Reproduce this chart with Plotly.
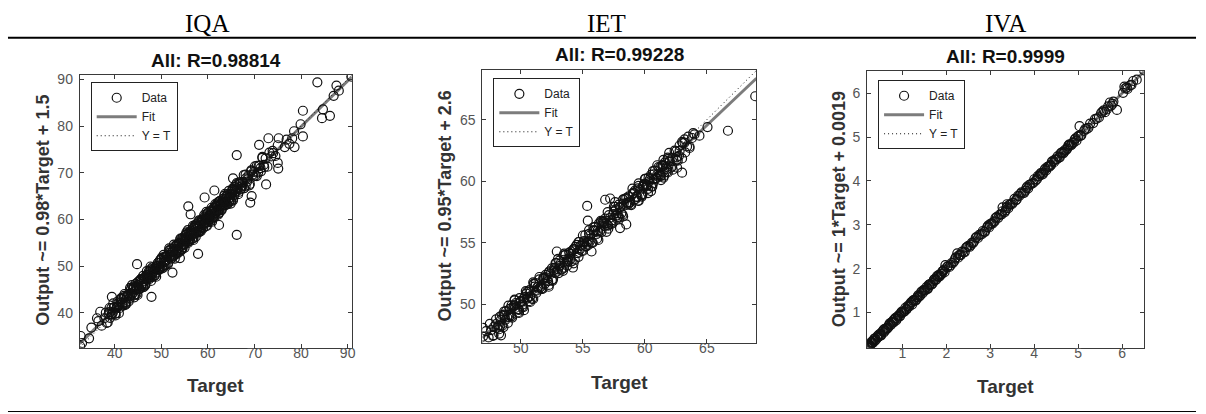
import plotly.graph_objects as go

# ---------------- data ----------------
PANEL_NAMES = ["IQA", "IET", "IVA"]
PANEL_TITLES = ["All: R=0.98814", "All: R=0.99228", "All: R=0.9999"]
Y_LABELS = ["Output ~= 0.98*Target + 1.5", "Output ~= 0.95*Target + 2.6", "Output ~= 1*Target + 0.0019"]
X_LABEL = "Target"

IQA_TICKS = [40, 50, 60, 70, 80, 90]
IET_TICKS = [50, 55, 60, 65]
IVA_TICKS = [1, 2, 3, 4, 5, 6]

IQA_LIMITS = [32.5, 90.9]
IET_LIMITS = [46.9, 69.0]
IVA_LIMITS = [0.2, 6.5]

IQA_FIT = [0.98, 1.5]
IET_FIT = [0.953, 2.6]
IVA_FIT = [1.0, 0.0019]

IQA_TARGET = [36.5, 37.2, 37.8, 38.3, 38.9, 39.4, 39.8, 40.2, 40.6, 41.0, 41.3, 41.7, 42.0, 42.3, 42.7, 43.0, 43.3, 43.6, 43.9, 44.2,
              44.5, 44.8, 45.1, 45.4, 45.7, 46.0, 46.3, 46.6, 46.9, 47.2, 47.5, 47.8, 48.1, 48.4, 48.7, 49.0, 49.3, 49.6, 49.9, 50.2,
              50.5, 50.8, 51.1, 51.4, 51.7, 52.0, 52.3, 52.6, 52.9, 53.2, 53.5, 53.8, 54.1, 54.4, 54.7, 55.0, 55.2, 55.4, 55.6, 55.8,
              56.0, 56.2, 56.4, 56.6, 56.8, 57.0, 57.2, 57.4, 57.6, 57.8, 58.0, 58.2, 58.4, 58.6, 58.8, 59.0, 59.2, 59.4, 59.6, 59.8,
              60.0, 60.2, 60.4, 60.6, 60.8, 61.0, 61.2, 61.4, 61.6, 61.8, 62.0, 62.2, 62.4, 62.6, 62.8, 63.0, 63.3, 63.6, 63.9, 64.2,
              64.5, 64.8, 65.1, 65.4, 65.7, 66.0, 66.3, 66.6, 66.9, 67.2, 67.5, 67.8, 68.1, 68.4, 68.7, 69.0, 69.3, 69.6, 69.9, 70.2,
              70.5, 70.8, 71.1, 71.4, 71.7, 72.0, 72.4, 72.8, 73.2, 73.6, 74.0, 74.5, 75.0,
              53.3, 53.9, 54.6, 55.1, 55.5, 55.9, 56.3, 56.7, 57.1, 57.5, 57.9, 58.3, 58.7, 59.1, 59.5, 59.9, 60.3, 60.7, 61.1, 61.5,
              61.9, 62.3, 62.7, 63.1, 63.5, 64.0, 64.6, 65.2,
              40.4, 41.5, 42.2, 43.4, 44.0, 44.7, 45.5, 46.2, 47.0, 47.7, 48.9, 50.0, 50.7, 51.8, 52.4, 53.7, 54.3,
              83.5, 90.8, 87.6, 88.1, 87.0, 80.4, 79.9, 80.4, 78.6, 84.5, 86.2, 84.7, 71.0, 73.0, 75.2, 76.9, 78.1, 66.2, 75.0, 75.1,
              72.5, 69.4, 69.1, 65.4, 61.4, 59.3, 55.8, 56.3, 66.2, 62.4, 57.9, 44.8, 52.4, 54.0, 47.9, 39.4, 36.9, 36.2, 35.0, 32.7,
              34.5, 33.0, 32.6, 78.5, 73.9, 76.5, 77.5,
              38.1, 38.5, 38.9, 39.3, 39.7, 40.1, 40.5, 40.9, 41.3, 41.7, 42.1, 42.5, 42.9, 43.3, 43.7, 44.1, 44.5, 44.9, 45.3, 45.7,
              46.1, 46.5, 46.9, 47.3, 47.7, 48.1, 48.5, 48.9, 49.3, 49.7, 50.1, 50.5, 50.9, 51.3, 51.7, 52.1, 52.5, 52.9, 53.3, 53.7,
              54.1, 54.5, 54.9, 55.3, 55.7, 56.1, 56.5, 56.9, 57.3, 57.7, 58.1, 58.5, 58.9, 59.3, 59.7, 60.1, 60.5, 60.9, 61.3, 61.7,
              62.1, 62.5, 62.9, 63.3, 63.7, 64.1, 64.5, 64.9, 65.3, 65.7, 66.1, 66.5, 66.9, 67.3, 67.7, 68.1, 68.5, 68.9, 69.3, 69.7,
              70.1, 70.5, 70.9, 71.3, 71.7, 72.1,
              50.3, 50.6, 50.9, 51.2, 51.5, 51.8, 52.1, 52.4, 52.7, 53.0, 53.3, 53.6, 53.9, 54.2, 54.5, 54.8, 55.1, 55.4,
              55.7, 56.0, 56.3, 56.6, 56.9, 57.2, 57.5, 57.8, 58.1, 58.4, 58.7, 59.0, 59.3, 59.6, 59.9, 60.2, 60.5, 60.8,
              61.1, 61.4, 61.7, 62.0, 62.3, 62.6, 62.9, 63.2, 63.5, 63.8, 64.1, 64.4, 64.7, 65.0, 65.3, 65.6, 65.9, 66.2,
              38.7, 39.0, 39.3, 39.6, 39.9, 40.2, 40.5, 40.8, 41.1, 41.4, 41.7, 42.0, 42.3, 42.6, 42.9, 43.2, 43.5, 43.8, 44.1,
              44.4, 44.7, 45.0, 45.3, 45.6, 45.9, 46.2, 46.5, 46.8, 47.1, 47.4, 47.7, 48.0, 48.3, 48.6, 48.9, 49.2, 49.5, 49.8,
              44.15, 44.55, 44.95, 45.35, 45.75, 46.15, 46.55, 46.95, 47.35, 47.75, 48.15, 48.55, 48.95, 49.35, 49.75, 50.15,
              50.55, 50.95, 51.35, 51.75, 52.15, 52.55, 52.95, 53.35, 53.75, 54.15, 54.55, 54.95, 55.35, 55.75, 56.15, 56.55,
              56.95, 57.35, 57.75, 58.15, 58.55, 58.95, 59.35, 59.75, 60.15, 60.55, 60.95, 61.35, 61.75, 62.15, 62.55, 62.95,
              63.35, 63.75, 64.15, 64.55, 64.95, 65.35, 65.75, 66.15, 66.55, 66.95, 67.35, 67.75, 68.15]
IQA_OUTPUT = [38.2, 37.2, 38.8, 37.8, 41.0, 39.7, 41.1, 39.4, 42.4, 41.6, 42.2, 41.5, 43.6, 42.2, 43.6, 42.4, 45.3, 43.8, 45.1, 43.3,
              46.2, 45.3, 45.9, 45.1, 47.2, 45.8, 47.2, 46.0, 48.9, 47.4, 48.7, 46.8, 49.7, 48.8, 49.4, 48.6, 50.7, 49.3, 50.7, 49.5,
              52.4, 50.9, 52.2, 50.4, 53.3, 52.4, 53.0, 52.1, 54.2, 52.8, 54.2, 53.0, 55.9, 54.4, 55.7, 53.9, 56.7, 55.7, 56.2, 55.3,
              57.3, 55.8, 57.1, 55.8, 58.6, 57.0, 58.2, 56.3, 59.1, 58.0, 58.5, 57.6, 59.6, 58.1, 59.4, 58.1, 60.9, 59.3, 60.5, 58.6,
              61.4, 60.4, 60.9, 60.0, 62.0, 60.5, 61.8, 60.5, 63.3, 61.7, 62.9, 61.0, 63.8, 62.8, 63.2, 62.3, 64.4, 63.0, 64.4, 63.2,
              66.1, 64.6, 65.9, 64.1, 67.0, 66.1, 66.7, 65.9, 68.0, 66.6, 68.0, 66.7, 69.6, 68.1, 69.4, 67.6, 70.5, 69.6, 70.2, 69.4,
              71.5, 70.1, 71.5, 70.3, 73.2, 71.7, 73.1, 71.3, 74.3, 73.5, 74.2, 73.6, 75.9,
              53.2, 55.0, 54.0, 55.6, 56.9, 55.7, 57.1, 56.9, 57.0, 58.6, 57.2, 58.7, 60.0, 58.8, 60.2, 60.0, 60.1, 61.7, 60.4, 61.9,
              63.2, 62.0, 63.3, 63.1, 63.2, 64.9, 63.8, 65.5,
              40.9, 42.9, 41.6, 44.2, 45.6, 44.0, 47.0, 45.5, 48.1, 47.9, 49.9, 51.5, 50.1, 52.9, 51.8, 54.8, 53.6,
              89.4, 90.6, 88.7, 87.6, 86.5, 83.3, 80.4, 77.8, 75.5, 81.7, 82.2, 83.6, 76.0, 77.4, 77.4, 77.1, 77.4, 73.8, 72.1, 70.9,
              67.5, 65.0, 63.6, 68.8, 66.2, 64.7, 62.8, 61.1, 56.7, 58.8, 52.6, 50.4, 48.6, 51.7, 43.4, 43.4, 40.2, 38.8, 36.8, 35.0,
              34.5, 33.5, 32.8, 78.9, 74.7, 75.5, 76.2,
              40.0, 37.9, 40.1, 39.6, 42.0, 39.8, 41.2, 39.9, 42.9, 41.8, 44.0, 41.9, 44.0, 43.5, 45.9, 43.7, 45.1, 43.8, 46.8, 45.7,
              47.9, 45.8, 48.0, 47.5, 49.9, 47.6, 49.0, 47.7, 50.7, 49.6, 51.8, 49.7, 51.9, 51.4, 53.8, 51.6, 53.0, 51.6, 54.6, 53.5,
              55.7, 53.6, 55.8, 55.3, 57.7, 55.5, 56.9, 55.6, 58.6, 57.5, 59.6, 57.5, 59.7, 59.2, 61.6, 59.4, 60.8, 59.5, 62.5, 61.4,
              63.6, 61.5, 63.6, 63.1, 65.5, 63.3, 64.7, 63.4, 66.4, 65.3, 67.5, 65.4, 67.6, 67.1, 69.5, 67.2, 68.6, 67.3, 70.3, 69.2,
              71.4, 69.3, 71.5, 71.0, 73.4, 71.2,
              49.9, 51.9, 51.2, 52.2, 50.7, 53.4, 52.0, 53.2, 54.6, 52.5, 54.5, 53.8, 54.8, 53.3, 56.0, 54.6, 55.8, 57.2,
              55.2, 57.2, 56.5, 57.5, 56.0, 58.7, 57.3, 58.4, 59.8, 57.8, 59.8, 59.1, 60.1, 58.6, 61.3, 59.9, 61.1, 62.5,
              60.5, 62.5, 61.8, 62.8, 61.3, 64.0, 62.5, 63.7, 65.1, 63.1, 65.1, 64.4, 65.4, 63.9, 66.6, 65.2, 66.4, 67.8,
              39.7, 38.9, 41.0, 40.0, 41.2, 39.8, 41.3, 41.8, 41.0, 43.1, 42.1, 43.3, 41.9, 43.4, 43.8, 43.0, 45.1, 44.1, 45.3,
              43.9, 45.4, 45.9, 45.1, 47.2, 46.2, 47.4, 46.0, 47.5, 48.0, 47.2, 49.3, 48.2, 49.4, 48.0, 49.5, 50.0, 49.2, 51.3,
              45.27, 44.86, 46.55, 45.24, 46.54, 45.53, 47.62, 47.21, 48.90, 47.60, 48.89, 47.88, 49.97, 49.56, 51.26, 49.95,
              51.24, 50.23, 52.32, 51.92, 53.61, 52.30, 53.59, 52.58, 54.68, 54.27, 55.96, 54.65, 55.94, 54.94, 57.03, 56.62,
              58.31, 57.00, 58.30, 57.29, 59.38, 58.97, 60.66, 59.36, 60.65, 59.64, 61.73, 61.32, 63.02, 61.71, 63.00, 61.99,
              64.08, 63.68, 65.37, 64.06, 65.35, 64.34, 66.44, 66.03, 67.72, 66.41, 67.70, 66.70, 68.79]

IET_TARGET = [47.2, 47.4, 47.6, 47.8, 48.0, 48.2, 48.4, 48.6, 48.8, 49.0, 49.2, 49.4, 49.6, 49.8, 50.0, 50.2, 50.4, 50.6, 50.8, 51.0,
              51.2, 51.4, 51.6, 51.8, 52.0, 52.2, 52.4, 52.6, 52.8, 53.0, 53.2, 53.4, 53.6, 53.8, 54.0, 54.2, 54.4, 54.6, 54.8, 55.0,
              55.2, 55.4, 55.6, 55.8, 56.0, 56.2, 56.4, 56.6, 56.8, 57.0, 57.2, 57.4, 57.6, 57.8, 58.0, 58.2, 58.4, 58.6, 58.8, 59.0,
              59.2, 59.4, 59.6, 59.8, 60.0, 60.2, 60.4, 60.6, 60.8, 61.0, 61.2, 61.4, 61.6, 61.8, 62.0, 62.2, 62.4, 62.6, 62.8, 63.0,
              63.2, 63.4, 63.6, 63.8, 64.0,
              48.1, 48.3, 48.5, 48.7, 48.9, 49.1, 49.3, 49.5, 49.7, 49.9, 50.1, 50.3, 50.5, 50.7, 50.9, 51.1, 51.3, 51.5, 51.7, 51.9,
              52.1, 52.3, 52.5, 52.7, 52.9, 53.1, 53.3, 53.5, 53.7, 53.9, 54.1, 54.3, 54.5, 54.7, 54.9, 55.1, 55.3, 55.5, 55.7, 55.9,
              56.1, 56.3, 56.5, 56.7, 56.9, 57.1, 57.3, 57.5, 57.7, 57.9, 58.1, 58.3, 58.5, 58.7, 58.9, 59.1, 59.3, 59.5, 59.7, 59.9,
              60.1, 60.3, 60.5, 60.7, 60.9, 61.1, 61.3, 61.5, 61.7, 61.9, 62.1,
              68.9, 66.7, 65.05, 64.4, 63.9, 63.6, 63.0, 62.6, 62.55, 61.96, 61.5, 61.3, 60.5, 59.5, 58.5, 58.0, 56.9, 55.35, 55.4, 55.7,
              54.2, 52.9, 49.5, 48.4, 46.95, 46.95, 56.8, 57.2, 57.6, 62.8, 63.2,
              47.5, 47.75, 48.0, 48.25, 48.5, 48.75, 49.0, 49.25, 49.5, 49.75, 50.0, 50.25, 50.5, 50.75, 51.0, 51.25,
              51.5, 51.75, 52.0, 52.25, 52.5, 52.75, 53.0, 53.25, 53.5, 53.75, 54.0, 54.25, 54.5, 54.75, 55.0, 55.25,
              55.5, 55.75, 56.0, 56.25, 56.5, 56.75, 57.0, 57.25, 57.5, 57.75, 58.0, 58.25, 58.5, 58.75, 59.0, 59.25,
              59.5, 59.75, 60.0, 60.25, 60.5, 60.75, 61.0, 61.25, 61.5, 61.75, 62.0, 62.25, 62.5, 62.75, 63.0, 63.25, 63.5,
              48.35, 48.65, 48.95, 49.25, 49.55, 49.85, 50.15, 50.45, 50.75, 51.05, 51.35, 51.65, 51.95, 52.25, 52.55, 52.85,
              53.15, 53.45, 53.75, 54.05, 54.35, 54.65, 54.95, 55.25, 55.55, 55.85, 56.15, 56.45, 56.75, 57.05, 57.35, 57.65,
              57.95, 58.25, 58.55, 58.85, 59.15, 59.45, 59.75, 60.05, 60.35, 60.65, 60.95, 61.25, 61.55, 61.85,
              47.85, 48.25, 48.65, 49.05, 49.45, 49.85, 50.25, 50.65, 51.05, 51.45, 51.85, 52.25, 52.65, 53.05, 53.45, 53.85,
              54.25, 54.65, 55.05, 55.45, 55.85, 56.25, 56.65, 57.05, 57.45, 57.85, 58.25, 58.65, 59.05, 59.45, 59.85, 60.25,
              60.65, 61.05, 61.45, 61.85, 62.25, 62.65, 63.05]
IET_OUTPUT = [47.84, 47.33, 47.92, 47.51, 48.80, 48.29, 48.78, 48.17, 49.46, 49.15, 49.14, 49.83, 50.12, 49.61, 50.20, 49.79, 51.08, 50.57, 51.06, 50.45,
              51.74, 51.43, 51.42, 52.11, 52.40, 51.89, 52.48, 52.07, 53.36, 52.85, 53.34, 52.73, 54.02, 53.71, 53.70, 54.39, 54.68, 54.17, 54.76, 54.35,
              55.64, 55.13, 55.62, 55.01, 56.30, 55.99, 55.98, 56.67, 56.96, 56.45, 57.04, 56.63, 57.92, 57.41, 57.90, 57.29, 58.58, 58.27, 58.26, 58.95,
              59.24, 58.73, 59.32, 58.91, 60.20, 59.69, 60.18, 59.57, 60.86, 60.55, 60.54, 61.23, 61.52, 61.01, 61.60, 61.19, 62.48, 61.97, 62.46, 61.85,
              63.14, 62.83, 62.82, 63.51, 63.80,
              48.10, 48.99, 48.28, 49.07, 48.96, 49.65, 48.94, 49.93, 49.62, 50.51, 49.80, 50.59, 50.48, 51.17, 50.46, 51.45, 51.14, 52.03, 51.32, 52.11,
              52.00, 52.69, 51.98, 52.97, 52.66, 53.55, 52.84, 53.63, 53.52, 54.21, 53.50, 54.49, 54.18, 55.07, 54.36, 55.15, 55.04, 55.73, 55.02, 56.01,
              55.70, 56.59, 55.88, 56.67, 56.56, 57.25, 56.54, 57.53, 57.22, 58.11, 57.40, 58.19, 58.08, 58.77, 58.06, 59.05, 58.74, 59.63, 58.92, 59.71,
              59.60, 60.29, 59.58, 60.57, 60.26, 61.15, 60.44, 61.23, 61.12, 61.81, 61.10,
              66.9, 64.1, 64.4, 63.7, 63.9, 62.7, 60.7, 61.1, 61.7, 62.3, 60.3, 60.1, 59.2, 58.4, 56.5, 56.2, 55.9, 58.0, 56.8, 54.3,
              53.0, 54.3, 50.4, 47.5, 48.1, 47.4, 58.5, 58.6, 58.3, 62.9, 63.4,
              48.43, 47.46, 48.40, 47.64, 49.13, 48.76, 49.90, 49.04, 50.33, 49.36, 50.30, 49.54, 51.03, 50.66, 51.80, 50.94,
              52.23, 51.26, 52.20, 51.44, 52.93, 52.56, 53.70, 52.84, 54.13, 53.16, 54.10, 53.34, 54.83, 54.46, 55.60, 54.74,
              56.03, 55.06, 56.00, 55.24, 56.73, 56.36, 57.50, 56.64, 57.93, 56.96, 57.90, 57.14, 58.63, 58.26, 59.40, 58.54,
              59.83, 58.86, 59.80, 59.04, 60.53, 60.16, 61.30, 60.44, 61.73, 60.76, 61.70, 60.94, 62.43, 62.06, 63.20, 62.34, 63.63,
              48.28, 49.17, 48.50, 49.94, 49.72, 49.56, 49.99, 50.88, 50.21, 51.65, 51.43, 51.27, 51.70, 52.59, 51.92, 53.36,
              53.14, 52.98, 53.41, 54.30, 53.63, 55.07, 54.85, 54.69, 55.12, 56.01, 55.34, 56.78, 56.56, 56.40, 56.83, 57.72,
              57.05, 58.49, 58.27, 58.11, 58.54, 59.43, 58.76, 60.20, 59.98, 59.82, 60.25, 61.14, 60.47, 61.91,
              48.21, 47.99, 49.42, 49.00, 49.93, 49.31, 50.49, 50.27, 51.70, 51.28, 52.21, 51.59, 52.77, 52.55, 53.98, 53.56,
              54.49, 53.87, 55.05, 54.83, 56.26, 55.84, 56.77, 56.15, 57.33, 57.11, 58.54, 58.12, 59.05, 58.43, 59.61, 59.39,
              60.82, 60.40, 61.33, 60.71, 61.89, 61.67, 63.10]

IVA_TARGET = [0.22, 0.25, 0.29, 0.31, 0.36, 0.40, 0.43, 0.47, 0.52, 0.55, 0.58, 0.63, 0.66, 0.71, 0.74, 0.78, 0.83, 0.86, 0.90, 0.95,
              0.98, 1.02, 1.07, 1.10, 1.14, 1.19, 1.22, 1.27, 1.30, 1.34, 1.39, 1.43, 1.46, 1.51, 1.55, 1.58, 1.63, 1.67, 1.71, 1.75,
              1.79, 1.84, 1.88, 1.91, 1.96, 2.02, 2.07, 2.12, 2.18, 2.22, 2.27, 2.31, 2.36, 2.42, 2.47, 2.53, 2.58, 2.63, 2.67, 2.72,
              2.78, 2.83, 2.88, 2.93, 2.97, 3.02, 3.07, 3.12, 3.18, 3.24, 3.28, 3.33, 3.37, 3.41, 3.46, 3.51, 3.55, 3.60, 3.66, 3.71,
              3.77, 3.82, 3.86, 3.91, 3.95, 4.00, 4.06, 4.11, 4.15, 4.19, 4.23, 4.27, 4.32, 4.36, 4.40, 4.45, 4.49, 4.53, 4.58, 4.62,
              4.66, 4.70, 4.75, 4.79, 4.83, 4.87, 4.92, 4.96, 5.01, 5.07, 5.13, 5.19, 5.27, 5.34, 5.42, 5.52, 5.61, 5.68, 5.75, 5.80,
              6.02, 6.07, 6.12, 6.18, 6.25, 6.33,
              0.27, 0.34, 0.45, 0.50, 0.61, 0.69, 0.76, 0.81, 0.93, 1.05, 1.17, 1.25, 1.37, 1.49, 1.61, 1.69, 1.81, 1.93,
              5.88, 5.03, 6.50, 5.72, 6.05, 5.55, 0.21, 1.98, 2.25, 3.28, 3.38,
              2.04, 2.15, 2.29, 2.39, 2.50, 2.61, 2.75, 2.86, 2.99, 3.10, 3.21, 3.35, 3.44, 3.58, 3.69, 3.80, 3.89, 4.03, 4.13, 4.21,
              4.30, 4.38, 4.47, 4.56, 4.64, 4.73, 4.81, 4.90, 4.99,
              0.24, 0.33, 0.38, 0.49, 0.57, 0.68, 0.80, 0.88, 0.97, 1.09, 1.21, 1.32, 1.45, 1.57, 1.73, 1.86,
              0.23, 0.30, 0.37, 0.44, 0.51, 0.59, 0.65, 0.72, 0.79, 0.85, 0.92, 0.99, 1.04, 1.12, 1.16, 1.24, 1.29, 1.36, 1.41, 1.48,
              1.53, 1.60, 1.65, 1.72, 1.77, 1.83, 1.90, 1.95, 2.10, 2.20, 2.33, 2.45, 2.56, 2.69, 2.81, 2.95, 3.05, 3.15, 3.26, 3.39,
              3.49, 3.63, 3.74, 3.84, 3.98, 4.08, 4.17, 4.25, 4.34, 4.43, 4.51, 4.60, 4.68, 4.77, 4.85, 4.94, 5.05, 5.16, 5.23, 5.38,
              5.47, 5.58, 5.65, 5.78, 6.10, 6.21]
IVA_OUTPUT = [0.24, 0.23, 0.30, 0.30, 0.40, 0.38, 0.43, 0.50, 0.48, 0.57, 0.55, 0.64, 0.65, 0.75, 0.72, 0.78, 0.86, 0.82, 0.92, 0.92,
              0.99, 1.01, 1.11, 1.08, 1.14, 1.22, 1.18, 1.29, 1.27, 1.35, 1.38, 1.47, 1.44, 1.51, 1.58, 1.54, 1.65, 1.64, 1.72, 1.74,
              1.83, 1.82, 1.88, 1.94, 1.92, 2.04, 2.04, 2.13, 2.17, 2.26, 2.25, 2.31, 2.39, 2.38, 2.49, 2.50, 2.59, 2.62, 2.71, 2.70,
              2.78, 2.86, 2.84, 2.95, 2.94, 3.03, 3.06, 3.16, 3.16, 3.24, 3.31, 3.29, 3.39, 3.38, 3.47, 3.50, 3.59, 3.58, 3.66, 3.74,
              3.73, 3.84, 3.83, 3.92, 3.94, 4.04, 4.04, 4.11, 4.18, 4.15, 4.25, 4.24, 4.33, 4.35, 4.44, 4.43, 4.49, 4.56, 4.54, 4.64,
              4.63, 4.71, 4.74, 4.83, 4.81, 4.87, 4.95, 4.92, 5.03, 5.04, 5.14, 5.18, 5.31, 5.32, 5.42, 5.55, 5.57, 5.70, 5.72, 5.81,
              6.01, 6.11, 6.10, 6.18, 6.28, 6.31,
              0.25, 0.36, 0.44, 0.52, 0.59, 0.70, 0.78, 0.79, 0.95, 1.03, 1.18, 1.27, 1.35, 1.50, 1.63, 1.67, 1.82, 1.95,
              5.62, 5.25, 6.52, 5.79, 6.15, 5.58, 0.20, 2.08, 2.35, 3.40, 3.47,
              2.06, 2.13, 2.31, 2.37, 2.52, 2.59, 2.77, 2.84, 3.01, 3.08, 3.23, 3.33, 3.46, 3.56, 3.71, 3.78, 3.91, 4.01, 4.15, 4.19,
              4.32, 4.36, 4.49, 4.54, 4.66, 4.71, 4.83, 4.88, 5.01,
              0.27, 0.31, 0.41, 0.47, 0.60, 0.66, 0.83, 0.86, 1.00, 1.07, 1.24, 1.30, 1.48, 1.55, 1.76, 1.84,
              0.21, 0.33, 0.35, 0.47, 0.49, 0.62, 0.63, 0.75, 0.77, 0.88, 0.90, 1.02, 1.02, 1.15, 1.14, 1.27, 1.27, 1.39, 1.39, 1.51,
              1.51, 1.63, 1.63, 1.75, 1.75, 1.86, 1.88, 1.98, 2.08, 2.23, 2.31, 2.48, 2.54, 2.72, 2.79, 2.98, 3.03, 3.18, 3.24, 3.42,
              3.47, 3.66, 3.72, 3.87, 3.96, 4.11, 4.15, 4.28, 4.32, 4.46, 4.49, 4.63, 4.66, 4.80, 4.83, 4.97, 5.03, 5.19, 5.21, 5.41,
              5.45, 5.61, 5.63, 5.76, 6.13, 6.19]

assert len(IQA_TARGET) == len(IQA_OUTPUT), (len(IQA_TARGET), len(IQA_OUTPUT))
assert len(IET_TARGET) == len(IET_OUTPUT), (len(IET_TARGET), len(IET_OUTPUT))
assert len(IVA_TARGET) == len(IVA_OUTPUT), (len(IVA_TARGET), len(IVA_OUTPUT))

# ---------------- layout geometry (pixels) ----------------
W, H = 1206, 414
SANS = "Liberation Sans, Arial, sans-serif"
SERIF = "Liberation Serif, Times New Roman, serif"


def fx(p):
    return p / W


def fy(p):
    return 1 - p / H


panels = [
    dict(box=(80, 353, 72, 347), data=(IQA_TARGET, IQA_OUTPUT), lim=IQA_LIMITS, fit=IQA_FIT, ticks=IQA_TICKS,
         head_x=208, title_y=57, ylab_x=43, ylab_y=208, xlab_y=385, legend=(91, 79)),
    dict(box=(484, 759, 67, 342), data=(IET_TARGET, IET_OUTPUT), lim=IET_LIMITS, fit=IET_FIT, ticks=IET_TICKS,
         head_x=609, title_y=51, ylab_x=447, ylab_y=204, xlab_y=382, legend=(495, 75)),
    dict(box=(870, 1148, 68, 347), data=(IVA_TARGET, IVA_OUTPUT), lim=IVA_LIMITS, fit=IVA_FIT, ticks=IVA_TICKS,
         head_x=1009, title_y=53, ylab_x=842, ylab_y=207, xlab_y=386, legend=(881, 77)),
]

fig = go.Figure()
annotations = []
layout_extra = {}

for i, p in enumerate(panels):
    n = "" if i == 0 else str(i + 1)
    xa, ya = "x" + n, "y" + n
    leg = "legend" + n
    lo, hi = p["lim"]
    slope, icpt = p["fit"]
    tgt, out = p["data"]

    fig.add_trace(go.Scatter(
        x=[lo, hi], y=[slope * lo + icpt, slope * hi + icpt], mode="lines", name="Fit",
        line=dict(color="#7c7c7c", width=3), xaxis=xa, yaxis=ya, legend=leg, legendrank=2,
        hoverinfo="skip"))
    fig.add_trace(go.Scatter(
        x=[lo, hi], y=[lo, hi], mode="lines", name="Y = T",
        line=dict(color="#111111", width=1, dash="1px,3px"), xaxis=xa, yaxis=ya, legend=leg, legendrank=3,
        hoverinfo="skip"))
    fig.add_trace(go.Scatter(
        x=tgt, y=out, mode="markers", name="Data",
        marker=dict(symbol="circle-open", size=9, color="#111111", line=dict(width=1.2)),
        xaxis=xa, yaxis=ya, legend=leg, legendrank=1))

    x0, x1, y0, y1 = p["box"]
    axcommon = dict(showline=True, linecolor="#3a3a3a", linewidth=1, mirror="ticks", ticks="inside",
                    ticklen=4, tickwidth=1, tickcolor="#3a3a3a", showgrid=False, zeroline=False,
                    tickfont=dict(family=SANS, size=14, color="#555555"), range=[lo, hi],
                    tickvals=p["ticks"], fixedrange=True)
    layout_extra["xaxis" + n] = dict(axcommon, domain=[fx(x0), fx(x1)], anchor=ya, ticklabelstandoff=-7)
    layout_extra["yaxis" + n] = dict(axcommon, domain=[fy(y1), fy(y0)], anchor=xa, ticklabelstandoff=3)

    lx, ly = p["legend"]
    layout_extra[leg] = dict(x=fx(lx), y=fy(ly), xanchor="left", yanchor="top", bgcolor="white",
                             bordercolor="#222222", borderwidth=1, font=dict(family=SANS, size=12, color="#222"),
                             itemwidth=40, tracegroupgap=0)

    cx = (x0 + x1) / 2
    annotations.append(dict(text=PANEL_NAMES[i], x=fx(p["head_x"]), y=fy(20), xref="paper", yref="paper",
                            showarrow=False, font=dict(family=SERIF, size=25, color="black"),
                            xanchor="center", yanchor="middle"))
    annotations.append(dict(text="<b>%s</b>" % PANEL_TITLES[i], x=fx(cx), y=fy(p["title_y"]), xref="paper",
                            yref="paper", showarrow=False, font=dict(family=SANS, size=19, color="#111"),
                            xanchor="center", yanchor="middle"))
    annotations.append(dict(text="<b>%s</b>" % X_LABEL, x=fx(cx), y=fy(p["xlab_y"]), xref="paper",
                            yref="paper", showarrow=False, font=dict(family=SANS, size=19, color="#333"),
                            xanchor="center", yanchor="middle"))
    annotations.append(dict(text="<b>%s</b>" % Y_LABELS[i], x=fx(p["ylab_x"]), y=fy(p["ylab_y"]), xref="paper",
                            yref="paper", showarrow=False, textangle=-90,
                            font=dict(family=SANS, size=18, color="#333"),
                            xanchor="center", yanchor="middle"))

shapes = [
    dict(type="line", xref="paper", yref="paper", x0=fx(8), x1=fx(1200), y0=fy(34), y1=fy(34),
         line=dict(color="black", width=2)),
    dict(type="line", xref="paper", yref="paper", x0=fx(8), x1=fx(1200), y0=fy(411.5), y1=fy(411.5),
         line=dict(color="black", width=1)),
]

fig.update_layout(
    width=W, height=H, margin=dict(l=0, r=0, t=0, b=0),
    paper_bgcolor="white", plot_bgcolor="white",
    showlegend=True, annotations=annotations, shapes=shapes,
    **layout_extra,
)

# remove the page's default 8px body margin so the figure sits at the window origin
fig.write_html("out.html", config={"displayModeBar": False},
               post_script="document.body.style.margin='0';")
